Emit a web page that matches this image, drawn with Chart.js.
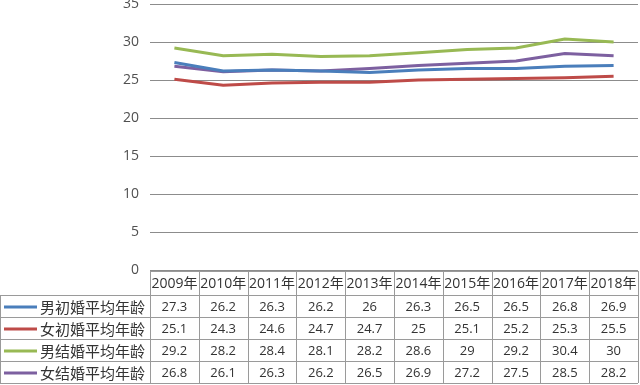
<!DOCTYPE html>
<html>
<head>
<meta charset="utf-8">
<script src="https://cdn.jsdelivr.net/npm/chart.js@4/dist/chart.umd.min.js"></script>
<style>
  html, body { margin: 0; padding: 0; background: #fff; }
  #wrap { width: 640px; height: 385px; }
</style>
</head>
<body>
<div id="wrap"><canvas id="chart" width="640" height="385"></canvas></div>
<script>
// Years along the bottom of the table
const years = ['2009年', '2010年', '2011年', '2012年', '2013年', '2014年', '2015年', '2016年', '2017年', '2018年'];

// Series names
const seriesNames = ['男初婚平均年龄', '女初婚平均年龄', '男结婚平均年龄', '女结婚平均年龄'];

// Series values
const maleFirst   = [27.3, 26.2, 26.3, 26.2, 26, 26.3, 26.5, 26.5, 26.8, 26.9];
const femaleFirst = [25.1, 24.3, 24.6, 24.7, 24.7, 25, 25.1, 25.2, 25.3, 25.5];
const maleAll     = [29.2, 28.2, 28.4, 28.1, 28.2, 28.6, 29, 29.2, 30.4, 30];
const femaleAll   = [26.8, 26.1, 26.3, 26.2, 26.5, 26.9, 27.2, 27.5, 28.5, 28.2];

const seriesColors = ['#4a7ebb', '#be4b48', '#98b954', '#7d60a0'];
const seriesValues = [maleFirst, femaleFirst, maleAll, femaleAll];

const numFont = '"Open Sans", "Noto Sans CJK SC", sans-serif';
const cjkFont = '"Noto Sans CJK SC", "Open Sans", sans-serif';

// Draws the data table under the plot, lined up with the x scale
const dataTable = {
  id: 'dataTable',
  afterDraw(chart) {
    const ctx = chart.ctx;
    const area = chart.chartArea;
    const xs = chart.scales.x;
    const n = years.length;
    const colW = (area.right - area.left) / n;
    const top = area.bottom + 1;
    const headH = 24;
    const rowH = 22;
    const bottom = top + headH + rowH * seriesNames.length;

    ctx.save();
    ctx.strokeStyle = '#9a9a9a';
    ctx.lineWidth = 1;

    // horizontal lines
    ctx.beginPath();
    ctx.moveTo(area.left, top + 0.5);
    ctx.lineTo(area.right, top + 0.5);
    for (let r = 0; r <= seriesNames.length; r++) {
      const y = Math.round(top + headH + r * rowH) + 0.5;
      ctx.moveTo(0, y);
      ctx.lineTo(area.right, y);
    }
    // vertical lines
    ctx.moveTo(0.5, top + headH);
    ctx.lineTo(0.5, bottom);
    for (let c = 0; c <= n; c++) {
      const x = Math.round(area.left + c * colW) + 0.5;
      ctx.moveTo(x, top);
      ctx.lineTo(x, bottom);
    }
    ctx.stroke();

    ctx.textBaseline = 'middle';
    ctx.fillStyle = '#333';

    // header row
    ctx.textAlign = 'center';
    ctx.font = '14px ' + numFont;
    years.forEach((yr, i) => {
      ctx.fillText(yr, xs.getPixelForValue(i), top + headH / 2 + 1);
    });

    // series rows
    seriesNames.forEach((name, r) => {
      const cy = top + headH + r * rowH + rowH / 2 + 1;
      // legend key
      ctx.strokeStyle = seriesColors[r];
      ctx.lineWidth = 3;
      ctx.beginPath();
      ctx.moveTo(4, cy);
      ctx.lineTo(37, cy);
      ctx.stroke();
      // legend label
      ctx.textAlign = 'left';
      ctx.font = '15px ' + cjkFont;
      ctx.fillText(name, 40, cy);
      // values
      ctx.textAlign = 'center';
      ctx.font = '13px ' + numFont;
      seriesValues[r].forEach((v, i) => {
        ctx.fillText(String(v), xs.getPixelForValue(i), cy);
      });
    });
    ctx.restore();
  }
};

new Chart(document.getElementById('chart'), {
  type: 'line',
  data: {
    labels: years,
    datasets: seriesNames.map((name, i) => ({
      label: name,
      data: seriesValues[i],
      borderColor: seriesColors[i],
      backgroundColor: seriesColors[i],
      borderWidth: 3,
      pointRadius: 0,
      tension: 0
    }))
  },
  options: {
    responsive: false,
    animation: false,
    layout: { padding: { top: 4, right: 2, bottom: 115, left: 0 } },
    plugins: { legend: { display: false }, tooltip: { enabled: false } },
    scales: {
      x: { display: false, offset: true },
      y: {
        min: 0,
        max: 35,
        ticks: { stepSize: 5, padding: 11, color: '#505050', font: { size: 14, family: numFont } },
        grid: { color: '#8c8c8c', drawTicks: false },
        border: { display: false },
        afterFit(scale) {
          scale.width = 150;
          scale.paddingTop = 0;
          scale.paddingBottom = 0;
        }
      }
    }
  },
  plugins: [dataTable]
});
</script>
</body>
</html>
